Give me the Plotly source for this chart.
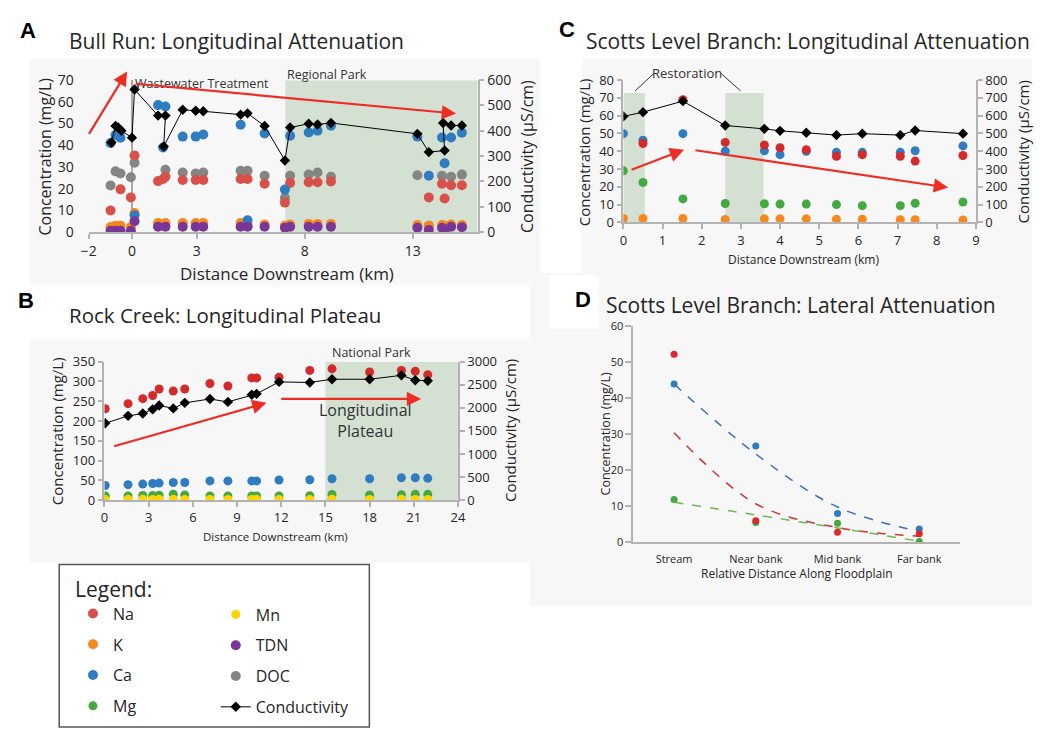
import plotly.graph_objects as go

W, H = 1040, 740
FONT = "Open Sans"
TXT = "#262626"
AXIS = "#b3b3b3"
SHADE = "#d4e1d2"
ARROW = "#ee2c24"
PANEL_BG = "#f7f7f7"

# species colours
COL_NA = "#d9504a"
COL_NA_DARK = "#d42a2c"
COL_K = "#f6881f"
COL_CA = "#2f7dc0"
COL_MG = "#43a940"
COL_MN = "#ffd400"
COL_TDN = "#7a3696"
COL_DOC = "#858585"


def px(x):
    return x / W


def py(y):
    return 1 - y / H


# ---------------- Panel A: Bull Run ----------------
A_KM = [-0.99, -0.76, -0.53, -0.05, 0.12, 1.21, 1.44, 1.55, 2.35, 2.95, 3.30, 5.03, 5.35,
        6.14, 7.08, 7.32, 8.18, 8.59, 9.21, 13.21, 13.74, 14.35, 14.47, 14.77, 15.27]
A_NA = [10, None, 19.7, 16, 35.3, 23.5, 24.5, 25.5, 24, 24, 24, 24.5, 24.5,
        22.3, 13.6, 22.6, 23, 23, 23.3, None, 16, 22.3, 15.5, 21.6, 21.6]
A_K = [2.4, 3, 3, 2.4, 8.8, 4.2, None, 4.2, 4.2, 4.2, 4.2, 4.2, 3.2,
       3.5, 3, 3.5, 3.8, 3.8, 3.8, 3.3, 3, 3.3, 3, 3.5, 3.3]
A_CA = [41, 44.7, 43.5, None, 7.8, 58.5, 39, 57.9, 44, 44, 45, 49.5, 5.5,
        45.4, 19.6, 44.4, 45.9, 46.7, 49, 44, 26, 43.6, 31.7, 43.6, 45.8]
A_TDN = [0.6, 0.6, 0.6, 0.6, 5, 2.5, None, 2.5, 2.5, 2.5, 2.5, 2.5, 2.5,
         2.5, 2, 2.5, 2.5, 2.5, 2.5, 2, 1, 2, 0.2, 2.5, 2.3]
A_DOC = [21.5, 28, 27, 25.3, 32, 3, None, 28.7, 27.5, 27, 27.5, 28.3, 28.3,
         26, 15.8, 26, 26.5, 27.5, 25.5, 26.2, 2.9, 26, None, 25.5, 26.5]
A_COND_KM = [-0.95, -0.76, -0.64, -0.49, 0.0, 0.12, 1.21, 1.55, 1.47, 2.35, 2.95, 3.30, 5.03,
             5.35, 6.14, 7.08, 7.32, 8.18, 8.59, 9.21, 13.21, 13.74, 14.47, 14.40, 14.77, 15.27]
A_COND = [354, 419, 413, 400, 373, 563, 460, 460, 338, 483, 479, 477, 464,
          469, 419, 283, 413, 428, 425, 431, 388, 316, 322, 431, 421, 421]
A_XTICKS = [-2, 0, 3, 8, 13]
A_PARK = [7.1, 16]

# ---------------- Panel B: Rock Creek ----------------
B_KM = [0.05, 1.6, 2.6, 3.27, 3.71, 4.67, 5.45, 7.16, 8.38, 10.0, 10.33, 11.85, 13.94,
        15.45, 18.0, 20.16, 21.1, 21.95]
B_NA = [231, 244, 256.5, 264.6, 281, 276, 281, 295, 288.5, 309, 309, 311, 328,
        332, 324, 328, 326, 317]
B_CA = [37, 39, 40.5, 42, 43, 44.5, 44.5, 48.5, 48.5, 48.5, 48.5, 50.7, 51.5,
        54, 54, 56.5, 56.5, 55]
B_MG = [10.6, 10.6, 11.5, 11.5, 12.3, 14.7, 13, 10.6, 10.6, 10.6, 10.6, 10.6, 11,
        14, 13, 13.5, 14.5, 14.5]
B_MN = [1.2, 1.8, 2.0, 1.5, 2.2, 1.8, 1.6, 1.4, 1.5, 1.7, 1.9, 1.6, 1.5,
        1.8, 1.6, 1.9, 1.7, 1.5]
B_COND = [1665, 1826, 1876, 1967, 2051, 1988, 2108, 2192, 2129, 2283, 2304, 2563, 2550,
          2620, 2620, 2705, 2600, 2585]
B_PARK = [15, 24]

# ---------------- Panel C: Scotts Level Branch (longitudinal) ----------------
C_KM = [0, 0.5, 1.52, 2.6, 3.6, 4.0, 4.67, 5.44, 6.1, 7.07, 7.45, 8.67]
C_NA = [None, 44.4, 69, 45, 43.5, 42, 40.9, 37.2, 38.1, 37.2, 34.5, 37.6]
C_CA = [49.9, 46.2, 49.9, 40, 40.3, 38.1, 40, 39.4, 39.4, 39.4, 40.3, 43]
C_MG = [29, 22.5, 13.2, 10.6, 10.5, 10.3, 10.3, 10, 9.4, 9.4, 10.8, 11.5]
C_K = [2.2, 2.2, 2.2, 1.7, 2, 2, 2, 1.8, 1.8, 1.5, 1.5, 1.4]
C_COND = [596, 620, 682, 545, 526, 515, 504, 491, 499, 491, 517, 499]
C_RESTORED = [[0, 0.55], [2.6, 3.58]]
C_RESTORED_TOP = 72.8

# ---------------- Panel D: Scotts Level Branch (lateral) ----------------
D_CATS = ["Stream", "Near bank", "Mid bank", "Far bank"]
D_NA = [52.1, 5.9, 2.7, 2.3]
D_CA = [43.8, 26.6, 7.9, 3.6]
D_MG = [11.8, 5.4, 5.2, 0.1]
D_NA_TREND = [30.3, 10.6, 4.0, 1.6]
D_CA_TREND = [43.8, 24.4, 9.7, 2.9]
D_MG_TREND = [11.0, 7.5, 3.9, 0.2]

fig = go.Figure()


def dots(x, y, color, xa, ya, name, size=10, legend=None, rank=None):
    fig.add_trace(go.Scatter(
        x=x, y=y, mode="markers", name=name, xaxis=xa, yaxis=ya,
        marker=dict(color=color, size=size, line=dict(width=0)),
        showlegend=legend is not None, legend=legend or "legend",
        legendgroup=name, legendrank=rank or 1000))


def conductivity(x, y, xa, ya, legend=None, rank=None):
    fig.add_trace(go.Scatter(
        x=x, y=y, mode="lines+markers", name="Conductivity", xaxis=xa, yaxis=ya,
        line=dict(color="black", width=1),
        marker=dict(symbol="diamond", size=8, color="black"),
        showlegend=legend is not None, legend=legend or "legend",
        legendgroup="Conductivity", legendrank=rank or 1000))


# Panel A traces
dots(A_KM, A_DOC, COL_DOC, "x", "y", "DOC", legend="legend2", rank=7)
dots(A_KM, A_NA, COL_NA, "x", "y", "Na", legend="legend", rank=1)
dots(A_KM, A_K, COL_K, "x", "y", "K", legend="legend", rank=2)
dots(A_KM, A_CA, COL_CA, "x", "y", "Ca", legend="legend", rank=3)
dots(A_KM, A_TDN, COL_TDN, "x", "y", "TDN", legend="legend2", rank=6)
conductivity(A_COND_KM, A_COND, "x", "y2", legend="legend2", rank=8)

# Panel B traces
dots(B_KM, B_NA, COL_NA_DARK, "x2", "y3", "Na", size=9)
dots(B_KM, B_CA, COL_CA, "x2", "y3", "Ca", size=9)
dots(B_KM, B_MG, COL_MG, "x2", "y3", "Mg", size=9, legend="legend", rank=4)
dots(B_KM, B_MN, COL_MN, "x2", "y3", "Mn", size=9, legend="legend2", rank=5)
conductivity(B_KM, B_COND, "x2", "y4")

# Panel C traces
dots(C_KM, C_K, COL_K, "x3", "y5", "K", size=9)
dots(C_KM, C_MG, COL_MG, "x3", "y5", "Mg", size=9)
dots(C_KM, C_CA, COL_CA, "x3", "y5", "Ca", size=9)
dots(C_KM, C_NA, COL_NA_DARK, "x3", "y5", "Na", size=9)
conductivity(C_KM, C_COND, "x3", "y6")

# Panel D trend curves and points
for vals, col in [(D_CA_TREND, "#3f6fb5"), (D_NA_TREND, "#c8373a"), (D_MG_TREND, "#6cb84c")]:
    fig.add_trace(go.Scatter(
        x=D_CATS, y=vals, mode="lines", xaxis="x4", yaxis="y7", showlegend=False,
        line=dict(color=col, width=1.5, dash="dash", shape="spline", smoothing=1)))
dots(D_CATS, D_MG, COL_MG, "x4", "y7", "Mg", size=7)
dots(D_CATS, D_CA, COL_CA, "x4", "y7", "Ca", size=7)
dots(D_CATS, D_NA, "#e0262d", "x4", "y7", "Na", size=7)

# ---------------- axes ----------------
def xax(domain, anchor, **kw):
    base = dict(domain=domain, anchor=anchor, showline=True, linecolor=AXIS, linewidth=1.5,
                ticks="outside", ticklen=5, tickcolor=AXIS, tickwidth=1.5,
                showgrid=False, zeroline=False,
                tickfont=dict(family=FONT, size=13, color=TXT))
    base.update(kw)
    return base


def yax(domain, anchor, **kw):
    base = dict(domain=domain, anchor=anchor, showline=True, linecolor=AXIS, linewidth=1.5,
                ticks="outside", ticklen=5, tickcolor=AXIS, tickwidth=1.5,
                showgrid=False, zeroline=False,
                tickfont=dict(family=FONT, size=13, color=TXT))
    base.update(kw)
    return base


A_X = [px(82), px(477)]
A_Y = [py(228), py(72)]
B_X = [px(98), px(457)]
B_Y = [py(503), py(361)]
C_X = [px(625), px(983)]
C_Y = [py(218), py(72)]
D_X = [px(635), px(967)]
D_Y = [py(546), py(324)]

fig.update_layout(
    xaxis=xax(A_X, "y", range=[-2, 16], tickvals=A_XTICKS, zeroline=True,
              zerolinecolor="#a8a8a8", zerolinewidth=1.5,
              tickfont=dict(family=FONT, size=14, color=TXT)),
    yaxis=yax(A_Y, "x", range=[0, 70], dtick=10, showline=False, ticks="",
              ticklabelstandoff=14, tickfont=dict(family=FONT, size=14, color=TXT)),
    yaxis2=yax(A_Y, "x", overlaying="y", side="right", range=[0, 600], dtick=100,
               tickfont=dict(family=FONT, size=14, color=TXT)),
    xaxis2=xax(B_X, "y3", range=[0, 24], dtick=3),
    yaxis3=yax(B_Y, "x2", range=[0, 350], dtick=50),
    yaxis4=yax(B_Y, "x2", overlaying="y3", side="right", range=[0, 3000], dtick=500),
    xaxis3=xax(C_X, "y5", range=[0, 9], dtick=1),
    yaxis5=yax(C_Y, "x3", range=[0, 80], dtick=10),
    yaxis6=yax(C_Y, "x3", overlaying="y5", side="right", range=[0, 800], dtick=100),
    xaxis4=xax(D_X, "y7", type="category", categoryarray=D_CATS, range=[-0.5, 3.5], ticks="",
               tickfont=dict(family=FONT, size=11, color=TXT), ticklabelstandoff=6),
    yaxis7=yax(D_Y, "x4", range=[0, 60], dtick=10, ticklen=6,
               tickfont=dict(family=FONT, size=11, color=TXT)),
)

# ---------------- shapes ----------------
shapes = []
# light panel backgrounds
for x0, y0, x1, y1 in [(22, 50, 540, 282), (22, 338, 540, 568), (583, 50, 1040, 270),
                       (530, 270, 1040, 612)]:
    shapes.append(dict(type="rect", xref="paper", yref="paper", x0=px(x0), x1=px(x1),
                       y0=py(y1), y1=py(y0), fillcolor=PANEL_BG, line=dict(width=0), layer="below"))
shapes.append(dict(type="rect", xref="paper", yref="paper", x0=px(550), x1=px(600),
                   y0=py(327), y1=py(272), fillcolor="white", line=dict(width=0), layer="below"))
# shaded reaches
shapes.append(dict(type="rect", xref="x", yref="y", x0=A_PARK[0], x1=A_PARK[1], y0=0, y1=70,
                   fillcolor=SHADE, line=dict(width=0), layer="below"))
shapes.append(dict(type="rect", xref="x2", yref="y3", x0=B_PARK[0], x1=B_PARK[1], y0=0, y1=350,
                   fillcolor=SHADE, line=dict(width=0), layer="below"))
for x0, x1 in C_RESTORED:
    shapes.append(dict(type="rect", xref="x3", yref="y5", x0=x0, x1=x1, y0=0, y1=C_RESTORED_TOP,
                       fillcolor=SHADE, line=dict(width=0), layer="below"))
# "Restoration" callout lines
for (x0, y0), (x1, y1) in [((656, 65), (637, 83)), ((724, 65), (744, 83))]:
    shapes.append(dict(type="line", xref="paper", yref="paper", x0=px(x0), y0=py(y0),
                       x1=px(x1), y1=py(y1), line=dict(color="#333333", width=1)))
# legend frame
shapes.append(dict(type="rect", xref="paper", yref="paper", x0=px(52), x1=px(367),
                   y0=py(736), y1=py(569), fillcolor="white",
                   line=dict(color="#555555", width=1.5), layer="below"))
fig.update_layout(shapes=shapes)

# ---------------- text ----------------
ann = []


def text(x, y, s, size, color=TXT, angle=0, xanchor="center", family=FONT, bold=False):
    ann.append(dict(xref="paper", yref="paper", x=px(x), y=py(y), text=f"<b>{s}</b>" if bold else s,
                    showarrow=False, textangle=angle, xanchor=xanchor, yanchor="middle",
                    font=dict(family=family, size=size, color=color)))


def arrow(xa, ya, tail, head):
    ann.append(dict(xref=xa, yref=ya, axref=xa, ayref=ya, x=head[0], y=head[1],
                    ax=tail[0], ay=tail[1], text="", showarrow=True, arrowhead=2,
                    arrowsize=1.3, arrowwidth=2.2, arrowcolor=ARROW, standoff=0, startstandoff=0))


def arrow_px(tail, head):
    # arrow placed on the page, used where the head sits above a plot area
    ann.append(dict(xref="paper", yref="paper", x=px(head[0]), y=py(head[1]),
                    ax=tail[0] - head[0], ay=tail[1] - head[1], text="", showarrow=True,
                    arrowhead=2, arrowsize=1.3, arrowwidth=2.2, arrowcolor=ARROW,
                    standoff=0, startstandoff=0))


# panel letters and titles
for letter, x, y in [("A", 20, 21), ("B", 18, 298), ("C", 568, 20), ("D", 584, 297)]:
    text(x, y, letter, 22, color="black", family="Liberation Sans, Arial", bold=True)
text(60, 32, "Bull Run: Longitudinal Attenuation", 21, xanchor="left")
text(60, 313, "Rock Creek: Longitudinal Plateau", 20.5, xanchor="left")
text(585, 32, "Scotts Level Branch: Longitudinal Attenuation", 21, xanchor="left")
text(605, 303, "Scotts Level Branch: Lateral Attenuation", 21, xanchor="left")

# axis titles
text(38, 150, "Concentration (mg/L)", 16, angle=-90)
text(527, 150, "Conductivity (µS/cm)", 16, angle=-90)
text(283, 270, "Distance Downstream (km)", 17)
text(50, 432, "Concentration (mg/L)", 15, angle=-90)
text(510, 432, "Conductivity (µS/cm)", 15, angle=-90)
text(272, 540, "Distance Downstream (km)", 11.5)
text(585, 146, "Concentration (mg/L)", 15, angle=-90)
text(1031, 146, "Conductivity (µS/cm)", 15, angle=-90)
text(808, 256, "Distance Downstream (km)", 12)
text(607, 435, "Concentration (mg/L)", 12.5, angle=-90)
text(801, 578, "Relative Distance Along Floodplain", 12)

# site labels
text(127, 75, "Wastewater Treatment", 12.5, color="#333333", xanchor="left")
text(281, 66, "Regional Park", 12.5, color="#333333", xanchor="left")
text(327, 352, "National Park", 12.5, color="#333333", xanchor="left")
text(363, 421, "Longitudinal<br>Plateau", 16, color="#333333")
text(690, 65, "Restoration", 13, color="#333333")

# trend arrows
arrow_px((82, 127), (121, 63))
arrow("x", "y", (0.1, 68.4), (15, 54.6))
arrow("x2", "y3", (0.55, 135), (11.0, 246))
arrow("x2", "y3", (11.9, 256), (21.5, 256))
arrow("x3", "y5", (0.17, 29.3), (1.55, 40.9))
arrow("x3", "y5", (1.8, 40.7), (8.29, 19.6))

fig.update_layout(annotations=ann)

# ---------------- legend ----------------
common_legend = dict(xanchor="left", yanchor="top", traceorder="grouped", tracegroupgap=7,
                     bgcolor="rgba(0,0,0,0)", borderwidth=0,
                     font=dict(family=FONT, size=16, color=TXT))
fig.update_layout(
    legend=dict(x=px(66), y=py(574), title=dict(text="Legend:", font=dict(family=FONT, size=21, color=TXT)),
                **common_legend),
    legend2=dict(x=px(211), y=py(603), **common_legend),
)

fig.update_layout(
    width=W, height=H, margin=dict(l=0, r=0, t=0, b=0),
    paper_bgcolor="white", plot_bgcolor="rgba(0,0,0,0)",
    font=dict(family=FONT, color=TXT),
)

fig.write_html("out.html")
